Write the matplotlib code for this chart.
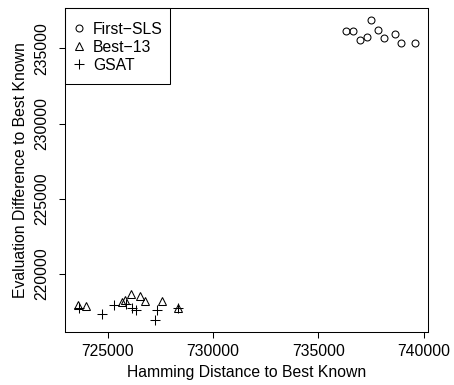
import numpy as np
import matplotlib.pyplot as plt
from matplotlib.patches import Rectangle

plt.rcParams['font.family'] = ['Liberation Sans', 'DejaVu Sans']
plt.rcParams['axes.unicode_minus'] = True

# First-SLS
sls_x = [736310, 736640, 737000, 737290, 737505, 737836, 738105, 738658, 738909, 739571]
sls_y = [236148, 236150, 235551, 235770, 236925, 236215, 235684, 235976, 235352, 235378]

# Best-13
best_x = [723611, 723951, 725700, 725841, 726101, 726527, 726786, 727590, 728346]
best_y = [217930, 217864, 218162, 218261, 218660, 218527, 218195, 218195, 217731]

# GSAT
gsat_x = [723620, 724716, 725321, 725888, 726172, 726337, 727353, 727259, 728346]
gsat_y = [217764, 217365, 217930, 217996, 217764, 217631, 217565, 216934, 217698]

xticks = [725000, 730000, 735000, 740000]
yticks = [220000, 225000, 230000, 235000]

fs = 11.3

fig = plt.figure(figsize=(4.54, 3.85), dpi=100)
W, H = 454, 385
ax = fig.add_axes([65 / W, 1 - 332 / H, (428 - 65) / W, (332 - 7.5) / H])

ax.plot(sls_x, sls_y, 'o', mfc='none', mec='black', ms=5, mew=0.75, ls='none', label='First\u2212SLS')
ax.plot(best_x, best_y, '^', mfc='none', mec='black', ms=6, mew=0.75, ls='none', label='Best\u221213')
ax.plot(gsat_x, gsat_y, '+', color='black', ms=7, mew=0.75, ls='none', label='GSAT')

ax.margins(0.04)
ax.set_xticks(xticks)
ax.set_yticks(yticks)
ax.set_xticklabels([str(v) for v in xticks])
ax.set_yticklabels([str(v) for v in yticks], rotation=90, va='center')
ax.tick_params(length=4, width=0.75, labelsize=fs, pad=5, color='black')
ax.tick_params(axis='y', pad=7)
for s in ax.spines.values():
    s.set_linewidth(0.75)
    s.set_color('black')

ax.set_xlabel('Hamming Distance to Best Known', fontsize=fs, labelpad=4)
ax.set_ylabel('Evaluation Difference to Best Known', fontsize=fs, labelpad=5)

# legend entries without frame, box drawn R-style
leg = ax.legend(loc='upper left', bbox_to_anchor=(71.4 / W, 1 - 21.5 / H),
                bbox_transform=fig.transFigure, frameon=False, borderpad=0,
                borderaxespad=0, fontsize=fs, handlelength=1.0, handletextpad=0.37,
                labelspacing=0.2, numpoints=1)
fig.patches.append(Rectangle((65 / W, 1 - 84 / H), 105 / W, (84 - 7.7) / H,
                             transform=fig.transFigure, fill=False,
                             edgecolor='black', linewidth=0.75, zorder=5))

fig.savefig('out.png', dpi=100)
